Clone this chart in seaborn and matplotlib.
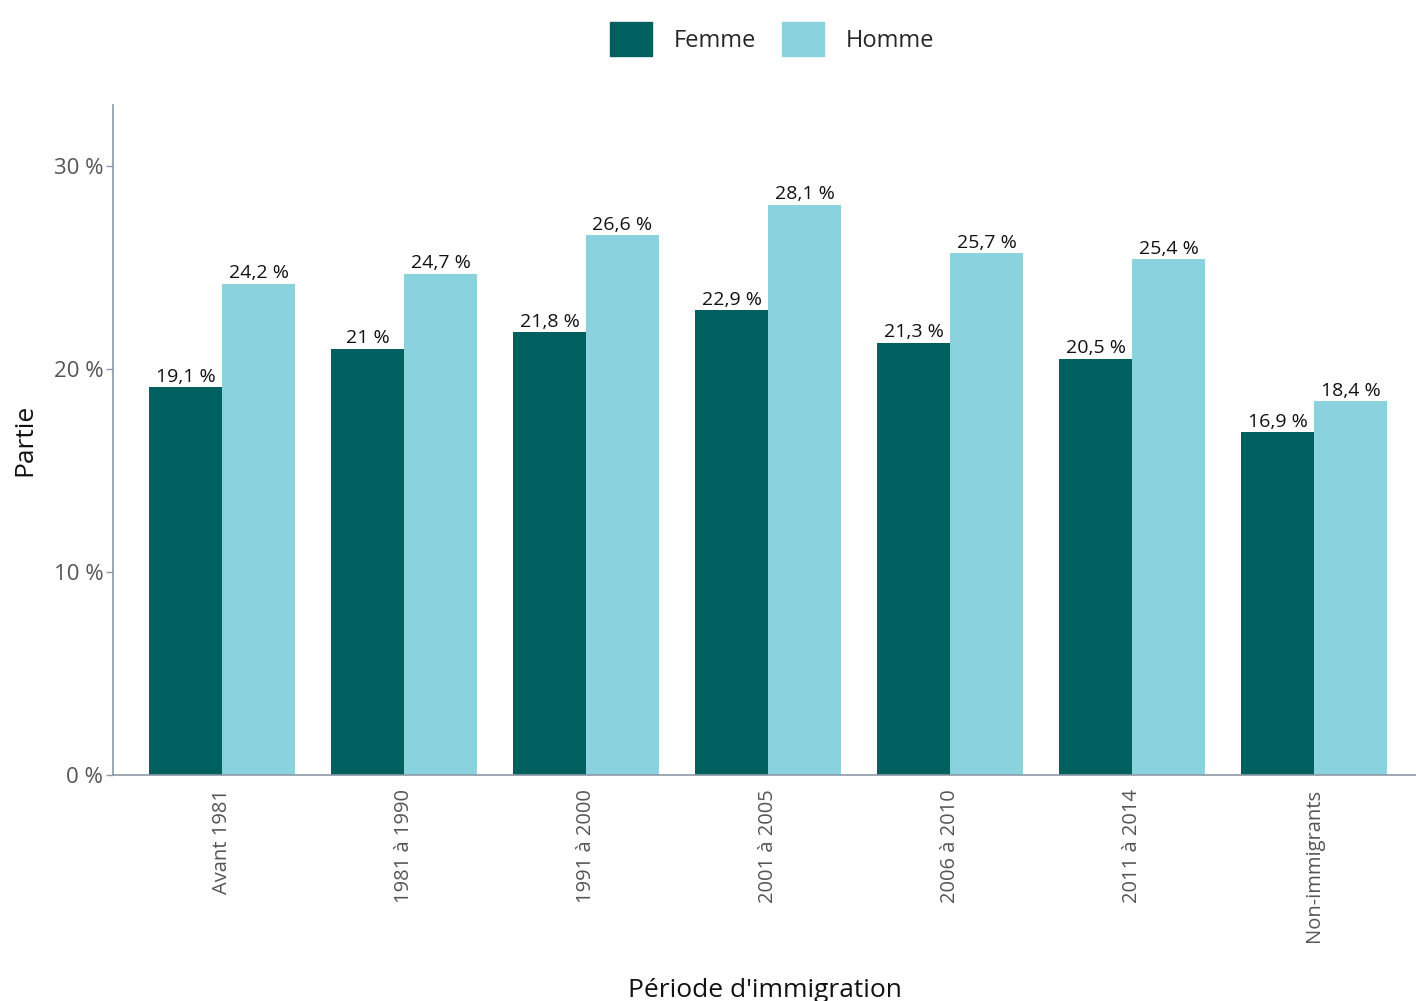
import matplotlib
matplotlib.use("Agg")
import matplotlib.pyplot as plt
import seaborn as sns
import pandas as pd

periods = ["Avant 1981", "1981 à 1990", "1991 à 2000", "2001 à 2005",
           "2006 à 2010", "2011 à 2014", "Non-immigrants"]
femme = [19.1, 21.0, 21.8, 22.9, 21.3, 20.5, 16.9]
homme = [24.2, 24.7, 26.6, 28.1, 25.7, 25.4, 18.4]
sexes = ["Femme", "Homme"]
colors = ["#005F5F", "#8AD3DE"]
y_ticks = [0, 10, 20, 30]

df = pd.DataFrame({
    "Période": periods * 2,
    "Sexe": ["Femme"] * len(periods) + ["Homme"] * len(periods),
    "Partie": femme + homme,
})

sns.set_theme(style="white")
plt.rcParams["font.family"] = ["Open Sans", "DejaVu Sans"]

fig = plt.figure(figsize=(14.16, 10.01), dpi=100)
ax = fig.add_axes([0.0798, 0.2258, 0.9202, 0.6692])

sns.barplot(data=df, x="Période", y="Partie", hue="Sexe", order=periods,
            hue_order=sexes, palette=colors, width=0.8, saturation=1,
            errorbar=None, ax=ax, legend=False, linewidth=0)

def fmt(v):
    s = f"{v:.1f}".replace(".", ",")
    if s.endswith(",0"):
        s = s[:-2]
    return s + " %"

for cont in ax.containers:
    ax.bar_label(cont, labels=[fmt(b.get_height()) for b in cont],
                 padding=1, fontsize=14, color="#111111")

ax.set_ylim(0, 33)
ax.set_xlim(-0.6, 6.56)
ax.set_yticks(y_ticks)
ax.set_yticklabels([f"{t} %" for t in y_ticks], fontsize=16, color="#555555")
ax.tick_params(axis="y", length=5, color="#8A9AA8", width=1, pad=2, left=True)
ax.tick_params(axis="x", length=0, pad=10)
for lbl in ax.get_xticklabels():
    lbl.set_rotation(90)
    lbl.set_fontsize(14.5)
    lbl.set_color("#555555")

for side in ["top", "right"]:
    ax.spines[side].set_visible(False)
for side in ["left", "bottom"]:
    ax.spines[side].set_color("#8A9AA8")
    ax.spines[side].set_linewidth(1.2)

ax.set_ylabel("Partie", fontsize=19, color="#111111", labelpad=12)
ax.set_xlabel("Période d'immigration", fontsize=19, color="#111111", labelpad=26)

handles = [plt.Rectangle((0, 0), 1, 1, color=c) for c in colors]
fig.legend(handles, sexes, loc="center", bbox_to_anchor=(0.545, 0.961), ncol=2,
           frameon=False, fontsize=17, handlelength=1.8, handleheight=1.8,
           handletextpad=0.9, columnspacing=1.1)

fig.savefig("out.png", dpi=100)
